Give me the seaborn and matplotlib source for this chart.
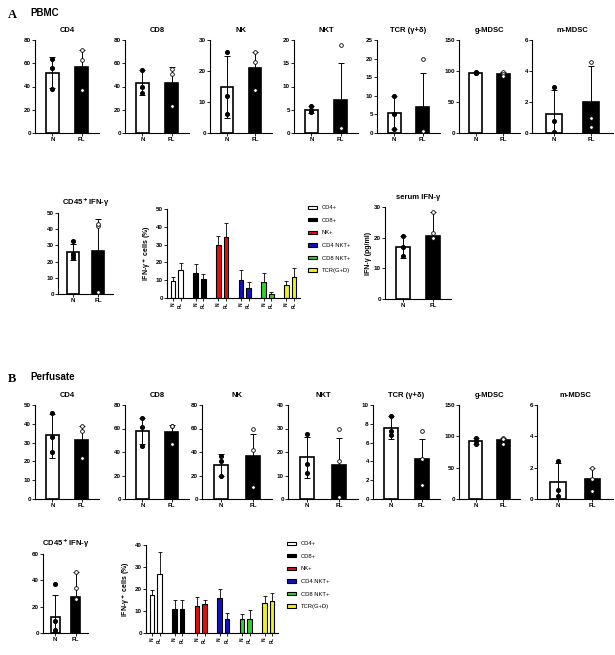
import numpy as np
import pandas as pd
import matplotlib
matplotlib.use("Agg")
import matplotlib.pyplot as plt
import seaborn as sns

plt.rcParams["font.family"] = "Liberation Sans"
plt.rcParams["font.weight"] = "bold"

groups = ["N", "FL"]

# ---- PBMC (A) : mean, error top, error bottom, individual points ----
a_titles = ["CD4", "CD8", "NK", "NKT", "TCR (γ+δ)", "g-MDSC", "m-MDSC"]
a_ylim = [80, 80, 30, 20, 25, 150, 6]
a_yticks = [20, 20, 10, 5, 5, 50, 2]
a_mean = [[52, 57], [43, 43], [15, 21], [5, 7], [5.3, 7], [97, 95], [1.25, 2]]
a_upper = [[65, 71], [54, 57], [25, 26], [5.7, 15], [10, 16], [98, 99], [2.8, 4.3]]
a_lower = [[39, None], [33, None], [5, None], [4.4, None], [1, None], [96, None], [0, None]]
a_pts_n = [[64, 56, 38], [54, 40, 34], [26, 12, 6], [5.7, 5, 4.6], [10, 5, 1], [98, 97, 96], [3, 0.8, 0.05]]
a_pts_fl = [[71, 63, 37], [55, 51, 23], [26, 23, 14], [19, 1, 1], [20, 0.5, 0.5], [98, 95, 92], [4.6, 1, 0.4]]

# ---- Perfusate (B) ----
b_ylim = [50, 80, 80, 40, 10, 150, 6]
b_yticks = [10, 20, 20, 10, 2, 50, 2]
b_mean = [[34, 31.5], [58, 57], [29, 37], [18, 14.5], [7.6, 4.3], [92, 94], [1.1, 1.3]]
b_upper = [[45, 39], [69, 63], [38, 55], [26.5, 26], [8.8, 6.4], [98, 98], [2.3, 2]]
b_lower = [[22, None], [47, None], [20, None], [9, None], [6.4, None], [88, None], [0, None]]
b_pts_n = [[46, 33, 25], [69, 61, 45], [37, 32, 20], [27.5, 15, 11], [8.8, 7.2, 6.8], [98, 92, 88], [2.4, 0.6, 0.2]]
b_pts_fl = [[39, 36, 22], [62, 62, 47], [60, 42, 10], [30, 16, 1], [7.2, 4.3, 1.5], [98, 96, 88], [2, 1.3, 0.5]]

# ---- CD45+IFN-γ ----
cd45_a = dict(mean=[26, 26.5], upper=[31, 46.5], lower=[21, None],
              n=[33, 25, 22, 24], fl=[42, 43, 1], ylim=50, step=10)
cd45_b = dict(mean=[12, 27], upper=[29, 46], lower=[0, None],
              n=[37, 9, 2, 1], fl=[46, 34, 26], ylim=60, step=20)

# ---- serum IFN-γ ----
serum = dict(mean=[17, 20.5], upper=[20.5, 28.5], lower=[13.5, None],
             n=[20.5, 17, 14], fl=[28.5, 21.5, 20], ylim=30, step=10)

# ---- IFN-γ+ cells by subset ----
subsets = ["CD4+", "CD8+", "NK+", "CD4 NKT+", "CD8 NKT+", "TCR(G+D)"]
subset_colors = ["white", "black", "#e01010", "#1010c0", "#30d030", "#f0f020"]
ifn_a_n = [9.5, 14, 29.5, 10, 9.2, 7.5]
ifn_a_fl = [16, 10.5, 34, 5.5, 2, 12]
ifn_a_n_err = [12, 19, 35, 15.5, 14, 9.5]
ifn_a_fl_err = [19.5, 13.5, 42, 9, 3.5, 17]
ifn_b_n = [17.5, 11, 12.5, 16, 6.2, 13.5]
ifn_b_fl = [27, 11, 13, 6.5, 6.5, 14.5]
ifn_b_n_err = [19.5, 15, 16.5, 20, 8.5, 17]
ifn_b_fl_err = [37, 15, 15, 9, 10.5, 18]

W, H = 615, 655
fig = plt.figure(figsize=(W / 100, H / 100), dpi=100)


def add_ax(x0, y0, x1, y1):
    return fig.add_axes([x0 / W, 1 - y1 / H, (x1 - x0) / W, (y1 - y0) / H])


def style(ax, ylim, step, fs=4.5):
    ax.set_ylim(0, ylim)
    ax.set_yticks(np.arange(0, ylim + 0.001, step))
    for s in ["top", "right"]:
        ax.spines[s].set_visible(False)
    for s in ["left", "bottom"]:
        ax.spines[s].set_linewidth(0.8)
    ax.tick_params(labelsize=fs, length=2, width=0.6, pad=1)
    ax.set_xlabel("")
    ax.set_ylabel("")


def nfl_panel(ax, title, mean, upper, lower, pn, pfl, ylim, step, ylabel=None):
    df = pd.DataFrame({"g": groups, "v": mean})
    sns.barplot(data=df, x="g", y="v", hue="g", palette=["white", "black"],
                edgecolor="black", linewidth=1.2, width=0.45, legend=False, ax=ax)
    for i in range(2):
        lo = lower[i] if lower[i] is not None else mean[i]
        ax.errorbar(i, mean[i], yerr=[[mean[i] - lo], [upper[i] - mean[i]]],
                    fmt="none", ecolor="black", elinewidth=0.7, capsize=2.5, capthick=0.7)
    ax.scatter(np.full(len(pn), 0.0), pn, s=7, color="black", zorder=5)
    ax.scatter(np.full(len(pfl), 1.0), pfl, s=7, facecolor="white",
               edgecolor="black", linewidth=0.6, zorder=5)
    style(ax, ylim, step)
    ax.set_xlim(-0.6, 1.6)
    ax.set_title(title, fontsize=5.5, fontweight="bold", pad=6)
    if ylabel:
        ax.set_ylabel(ylabel, fontsize=5, fontweight="bold", labelpad=1)


def ifn_panel(ax, n, fl, nerr, flerr, ylim, step, legend_pos):
    rows = []
    for k, s in enumerate(subsets):
        rows.append({"x": 2 * k, "v": n[k], "e": nerr[k], "c": subset_colors[k]})
        rows.append({"x": 2 * k + 1, "v": fl[k], "e": flerr[k], "c": subset_colors[k]})
    df = pd.DataFrame(rows)
    pos = [3 * k + j for k in range(6) for j in range(2)]
    for (_, r), p in zip(df.iterrows(), pos):
        ax.bar(p, r["v"], width=0.6, color=r["c"], edgecolor="black", linewidth=0.8)
        ax.errorbar(p, r["v"], yerr=[[0], [r["e"] - r["v"]]], fmt="none",
                    ecolor="black", elinewidth=0.6, capsize=1.5, capthick=0.6)
    style(ax, ylim, step)
    ax.set_xlim(-0.8, pos[-1] + 0.8)
    ax.set_xticks(pos)
    ax.set_xticklabels(["N", "FL"] * 6, rotation=90, fontsize=3.5)
    ax.set_ylabel("IFN-γ$^+$ cells (%)", fontsize=5, fontweight="bold", labelpad=1)
    handles = [plt.Rectangle((0, 0), 1, 1, facecolor=c, edgecolor="black", linewidth=0.8)
               for c in subset_colors]
    leg = fig.legend(handles, subsets, loc="upper left", bbox_to_anchor=legend_pos,
                     frameon=False, fontsize=4.2, handlelength=1.5, handleheight=0.5,
                     labelspacing=1.3)
    for t in leg.get_texts():
        t.set_fontweight("normal")


a_boxes = [(35, 99), (125, 189), (210, 272), (294, 358), (377, 440), (459, 520), (532, 613)]
b_boxes = [(35, 99), (125, 189), (202, 272), (288, 358), (373, 440), (459, 520), (537, 613)]

for k in range(7):
    ax = add_ax(a_boxes[k][0], 40, a_boxes[k][1], 133)
    nfl_panel(ax, a_titles[k], a_mean[k], a_upper[k], a_lower[k],
              a_pts_n[k], a_pts_fl[k], a_ylim[k], a_yticks[k])
    ax = add_ax(b_boxes[k][0], 405, b_boxes[k][1], 499)
    nfl_panel(ax, a_titles[k], b_mean[k], b_upper[k], b_lower[k],
              b_pts_n[k], b_pts_fl[k], b_ylim[k], b_yticks[k])

ax = add_ax(58, 213, 113, 294)
nfl_panel(ax, "CD45$^+$IFN-γ", cd45_a["mean"], cd45_a["upper"], cd45_a["lower"],
          cd45_a["n"], cd45_a["fl"], cd45_a["ylim"], cd45_a["step"])
ax = add_ax(43, 554, 88, 633)
nfl_panel(ax, "CD45$^+$IFN-γ", cd45_b["mean"], cd45_b["upper"], cd45_b["lower"],
          cd45_b["n"], cd45_b["fl"], cd45_b["ylim"], cd45_b["step"])

ax = add_ax(385, 207, 451, 299)
nfl_panel(ax, "serum IFN-γ", serum["mean"], serum["upper"], serum["lower"],
          serum["n"], serum["fl"], serum["ylim"], serum["step"], ylabel="IFN-γ (pg/ml)")

ax = add_ax(167, 209, 300, 298)
ifn_panel(ax, ifn_a_n, ifn_a_fl, ifn_a_n_err, ifn_a_fl_err, 50, 10, (303 / W, 1 - 200 / H))
ax = add_ax(146, 545, 278, 633)
ifn_panel(ax, ifn_b_n, ifn_b_fl, ifn_b_n_err, ifn_b_fl_err, 40, 10, (282 / W, 1 - 536 / H))

fig.text(8 / W, 1 - 18 / H, "A", fontsize=9, fontweight="bold", family="Liberation Serif")
fig.text(30 / W, 1 - 16 / H, "PBMC", fontsize=7, fontweight="bold")
fig.text(8 / W, 1 - 382 / H, "B", fontsize=9, fontweight="bold", family="Liberation Serif")
fig.text(30 / W, 1 - 380 / H, "Perfusate", fontsize=7, fontweight="bold")

fig.savefig("out.png", dpi=100)
